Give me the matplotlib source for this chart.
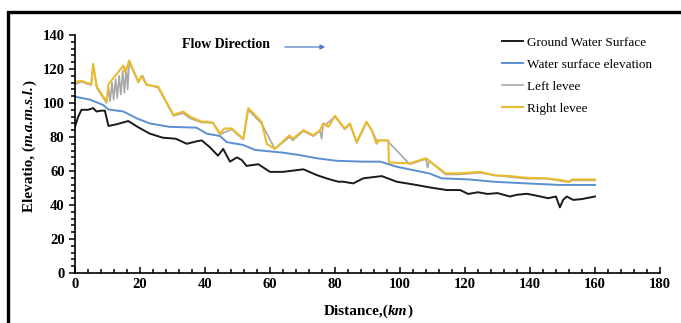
import matplotlib
matplotlib.use("Agg")
import matplotlib.pyplot as plt
from matplotlib.lines import Line2D
from matplotlib.ticker import MultipleLocator

plt.rcParams["font.family"] = "Liberation Serif"

# Ground water surface profile (km, m)
ground_km = [0, 1, 2, 4, 5.6, 6.6, 8, 9.2, 10.3, 12.8, 16.4, 19.5, 23, 27, 31, 34.4,
             37.5, 39, 41.5, 43, 44, 45.6, 47.7, 49.8, 51.3, 52.8, 56.4, 60, 64, 70.3,
             74.4, 77.5, 81, 82.6, 85.6, 88.7, 94.4, 99, 105, 109, 114.4, 118.5, 121,
             124, 127, 130, 133.8, 136, 139, 142, 145.6, 148, 149.2, 150.2, 151.3,
             153.3, 156, 160]
ground_elev = [86, 92, 96, 96, 97, 95, 95.5, 95.5, 86.5, 87.5, 89.4, 85.7, 82, 79.6, 79,
               76, 77.5, 78, 74, 71, 69, 73, 65.5, 68, 66.5, 63, 64, 59.5, 59.5, 61,
               57.6, 55.6, 53.7, 53.7, 52.7, 55.7, 57, 53.7, 51.8, 50.4, 48.8, 48.8,
               46.5, 47.5, 46.5, 47, 45, 46, 46.6, 45.5, 44, 45, 38.6, 43, 45, 43,
               43.5, 45]

# Water surface elevation
water_km = [0, 4.6, 8.7, 10.3, 14.9, 19, 23, 29, 37.4, 40.5, 44.6, 46.7, 51.8, 55.4,
            64, 69, 74.4, 80.5, 88.7, 94, 99, 109, 112.8, 121.5, 128.7, 139, 149, 160]
water_elev = [103.7, 102, 98.8, 96.2, 95, 91, 88, 86, 85.5, 82, 80.6, 77, 75.3, 72.4,
              70.8, 69.4, 67.5, 66, 65.5, 65.5, 62.5, 58.6, 55.7, 55, 53.7, 52.7,
              51.8, 51.8]

# Left levee crest
left_km = [0, 2, 5, 5.6, 6.7, 9.7, 10.3, 10.8, 11.4, 11.9, 12.5, 13, 13.6, 14.1, 14.7,
           15.2, 15.8, 16.2, 16.7, 19.5, 20, 20.8, 22, 25.6, 30.3, 33.3, 35.4, 39,
           40.8, 42.5, 44.6, 48.2, 51.8, 53.3, 57.4, 61.5, 66, 67, 70.3, 73.3, 75.4,
           75.9, 76.4, 77, 80, 83, 84.6, 86.7, 89.7, 91.3, 92.8, 96, 103, 108, 108.5,
           109, 114, 118.5, 124.6, 129, 133.8, 138.8, 145, 150, 152, 153, 160]
left_elev = [111, 112.5, 110.5, 122, 109, 100, 109, 101, 112, 102, 114, 103, 116, 105,
             119, 106, 121, 108, 124, 112, 114, 116, 111, 109, 92.5, 94, 91, 88.5,
             88.5, 88, 81.5, 84.5, 78.5, 96, 88, 73, 80, 78, 83.5, 80.5, 83.5, 79, 88,
             87, 92, 84.5, 87.5, 76.5, 88.5, 84, 78, 78, 64, 67, 62, 66, 58, 58, 59,
             57.5, 56.5, 55.5, 55.5, 54, 53.5, 54.5, 54.5]

# Right levee crest
right_km = [0, 2, 5, 5.6, 6.7, 9.7, 10.3, 14.9, 15.5, 16.7, 19.5, 20.5, 22, 25.6,
            30.3, 33.3, 35.4, 39, 40.8, 42.5, 44.6, 46, 48.2, 51.8, 53.3, 57.4, 59,
            61.5, 66, 67, 70.3, 73.3, 75.4, 76.4, 78, 80, 83, 84.6, 86.7, 89.7, 91.3,
            92.8, 93.5, 96.4, 96.6, 103, 108, 109, 114, 118.5, 124.6, 129, 133.8,
            138.8, 145, 150, 152, 153, 160]
right_elev = [112.5, 113, 111, 123, 109.6, 100.8, 111, 122, 118, 125, 112.5, 116, 110.6,
              109.6, 93, 95, 92, 89, 89, 88.4, 82, 85, 85, 79, 97, 89, 76, 73, 81,
              79, 84, 81, 84, 88, 86, 92.5, 85, 88, 77, 89, 84, 76, 78, 78, 65, 64.5,
              67.5, 66, 58.6, 58.6, 59.5, 57.5, 57, 56, 55.7, 54.5, 53.7, 55, 55]

W, H = 681, 323
fig = plt.figure(figsize=(W / 100, H / 100), dpi=100)
ax = fig.add_axes([0.1101, 0.1548, 0.859, 0.7368])

ax.plot(ground_km, ground_elev, color="#1a1a1a", lw=1.4, label="Ground Water Surface")
ax.plot(water_km, water_elev, color="#5b8fd0", lw=1.4, label="Water surface elevation")
ax.plot(left_km, left_elev, color="#a8a8a8", lw=1.2, label="Left levee")
ax.plot(right_km, right_elev, color="#eabb2c", lw=1.5, label="Right levee")

ax.set_xlim(0, 180)
ax.set_ylim(0, 140)
ax.xaxis.set_major_locator(MultipleLocator(20))
ax.xaxis.set_minor_locator(MultipleLocator(4))
ax.yaxis.set_major_locator(MultipleLocator(20))
ax.yaxis.set_minor_locator(MultipleLocator(4))
ax.spines["top"].set_visible(False)
ax.spines["right"].set_visible(False)
for s in ("left", "bottom"):
    ax.spines[s].set_linewidth(1.2)
ax.tick_params(axis="x", which="both", direction="in", width=1.1)
ax.tick_params(axis="x", which="major", length=4)
ax.tick_params(axis="x", which="minor", length=3)
ax.tick_params(axis="y", which="both", direction="out", width=1.1)
ax.tick_params(axis="y", which="major", length=4)
ax.tick_params(axis="y", which="minor", length=3)
for lab in ax.get_xticklabels() + ax.get_yticklabels():
    lab.set_fontweight("bold")
    lab.set_fontsize(10.5)


def mixed_label(parts, x, base, rotation):
    """Lay bold pieces (some italic) end to end on one baseline.

    x is the centre along the text direction, base the baseline position
    across it (pixels, from the bottom-left of the figure)."""
    renderer = fig.canvas.get_renderer()
    texts = [fig.text(0, 0, s, fontsize=11, fontweight="bold", fontstyle=style,
                      rotation=rotation, rotation_mode="anchor",
                      ha="left", va="baseline")
             for s, style in parts]
    sizes = []
    for t in texts:
        bb = t.get_window_extent(renderer)
        sizes.append(bb.width if rotation == 0 else bb.height)
    pos = x - sum(sizes) / 2
    for t, size in zip(texts, sizes):
        if rotation == 0:
            t.set_position((pos / W, base / H))
        else:
            t.set_position((base / W, pos / H))
        pos += size


mixed_label([("Distance,(", "normal"), ("km", "italic"), (")", "normal")],
            368, H - 315, 0)
mixed_label([("Elevatio, (", "normal"), ("m.a.m.s.l.", "italic"), (")", "normal")],
            H - 146, 33, 90)

# flow direction note with arrow
fig.text(182 / W, 1 - 45 / H, "Flow Direction", fontsize=10, fontweight="bold",
         va="center", ha="left")
ax.annotate("", xy=(328 / W, 1 - 47 / H), xytext=(282 / W, 1 - 47 / H),
            xycoords="figure fraction", textcoords="figure fraction",
            arrowprops=dict(arrowstyle="-|>", color="#4f7fc4", lw=0.9,
                            mutation_scale=7))

fig.legend(loc="upper left", bbox_to_anchor=(497 / W, 1 - 31 / H),
           frameon=False, fontsize=9.5, handlelength=1.6, handletextpad=0.3,
           labelspacing=0.75, borderaxespad=0)

# heavy border on the left and top of the figure
fig.add_artist(Line2D([8 / W, 8 / W, 1.01], [-0.01, 1 - 12 / H, 1 - 12 / H],
                      transform=fig.transFigure, color="black", lw=2.4,
                      solid_joinstyle="miter"))

fig.savefig("out.png", dpi=100)
